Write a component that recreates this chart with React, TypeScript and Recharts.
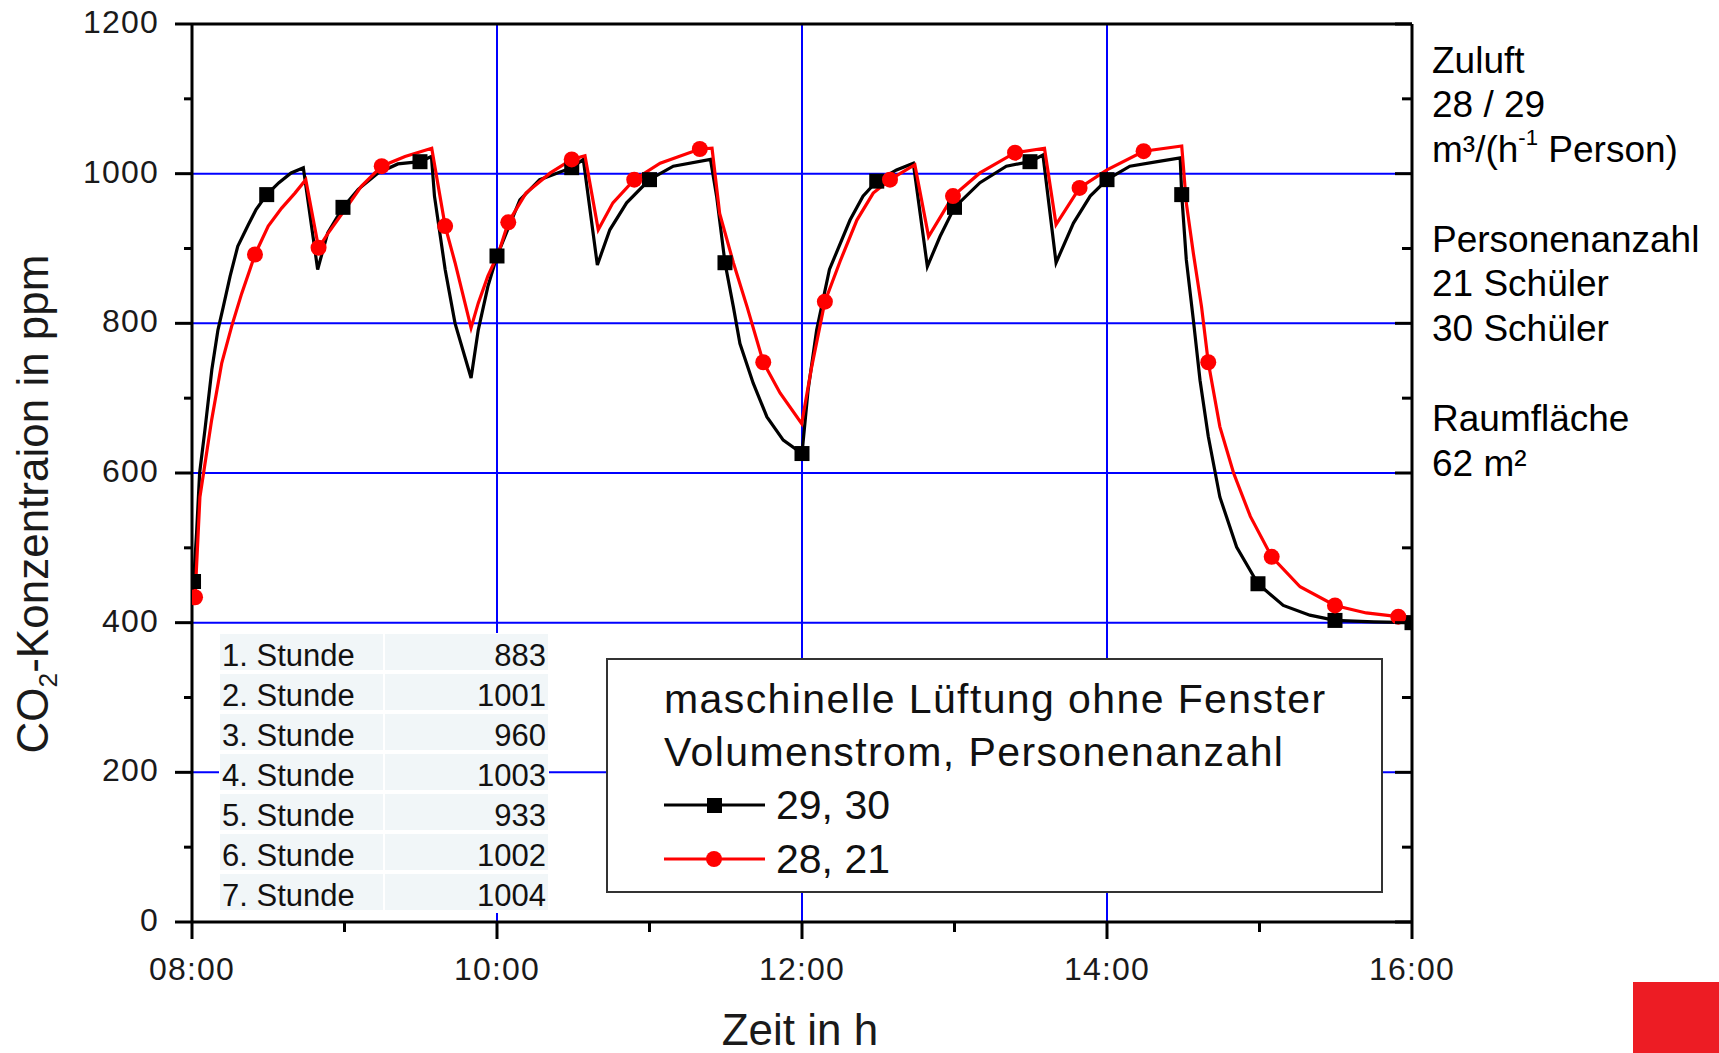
import React from 'react';
import { ComposedChart, Line, Scatter, XAxis, YAxis, CartesianGrid } from 'recharts';

// CO2 concentration over the school day (time in decimal hours, value in ppm)
const SERIES_29_30: [number, number][] = [
  [8.0, 440], [8.015, 470], [8.03, 520], [8.05, 600], [8.085, 658], [8.13, 738], [8.17, 791],
  [8.205, 822], [8.25, 863], [8.3, 903], [8.37, 932], [8.42, 952], [8.49, 972], [8.57, 988],
  [8.65, 1001], [8.73, 1008], [8.824, 872], [8.89, 921], [8.99, 955], [9.09, 979], [9.22, 1001],
  [9.35, 1013], [9.495, 1016], [9.57, 1023], [9.59, 970], [9.66, 872], [9.725, 800], [9.83, 727],
  [9.877, 791], [9.94, 849], [10.0, 890], [10.15, 965], [10.28, 992], [10.49, 1008], [10.566, 1019],
  [10.658, 878], [10.74, 925], [10.85, 961], [11.0, 992], [11.156, 1010], [11.4, 1019], [11.44, 970],
  [11.495, 881], [11.55, 822], [11.593, 773], [11.68, 720], [11.77, 675], [11.877, 644], [12.0, 626],
  [12.04, 711], [12.096, 791], [12.18, 872], [12.315, 938], [12.4, 970], [12.49, 990], [12.62, 1005],
  [12.73, 1014], [12.822, 876], [12.905, 916], [13.0, 955], [13.167, 988], [13.34, 1010], [13.495, 1016],
  [13.58, 1025], [13.666, 881], [13.78, 934], [13.89, 970], [14.0, 992], [14.15, 1010], [14.33, 1016],
  [14.48, 1021], [14.49, 972], [14.52, 885], [14.566, 805], [14.61, 724], [14.664, 649], [14.74, 568],
  [14.85, 501], [14.99, 452], [15.156, 423], [15.33, 410], [15.495, 403], [15.75, 401], [16.0, 400],
];

const SERIES_28_21: [number, number][] = [
  [8.0, 425], [8.02, 434], [8.052, 568], [8.129, 671], [8.195, 747], [8.26, 796], [8.326, 840],
  [8.38, 872], [8.413, 892], [8.5, 930], [8.588, 954], [8.675, 974], [8.746, 992], [8.83, 901],
  [8.894, 921], [9.003, 952], [9.11, 983], [9.244, 1010], [9.397, 1023], [9.572, 1034], [9.66, 930],
  [9.725, 881], [9.83, 794], [9.877, 827], [9.94, 863], [10.01, 894], [10.074, 935], [10.19, 974],
  [10.35, 1001], [10.49, 1019], [10.577, 1024], [10.664, 925], [10.76, 961], [10.9, 992], [11.07, 1014],
  [11.33, 1033], [11.41, 1034], [11.46, 947], [11.55, 881], [11.64, 822], [11.746, 748], [11.856, 707],
  [11.998, 666], [12.06, 738], [12.15, 829], [12.25, 883], [12.36, 938], [12.467, 974], [12.577, 992],
  [12.74, 1012], [12.83, 916], [12.99, 970], [13.167, 1001], [13.397, 1028], [13.59, 1034], [13.666, 932],
  [13.82, 981], [14.0, 1005], [14.24, 1030], [14.49, 1037], [14.52, 961], [14.566, 894], [14.62, 822],
  [14.664, 748], [14.74, 662], [14.83, 600], [14.94, 542], [15.08, 488], [15.266, 448], [15.495, 423],
  [15.7, 413], [15.91, 408], [16.0, 407],
];

// symbol positions (Origin draws a marker every n-th sample)
const MARKS_29_30: [number, number][] = [
  [8.01, 455], [8.49, 972], [8.99, 955], [9.495, 1016], [10.0, 890], [10.49, 1008], [11.0, 992],
  [11.495, 881], [12.0, 626], [12.49, 990], [13.0, 955], [13.495, 1016], [14.0, 992], [14.49, 972],
  [14.99, 452], [15.495, 403], [16.0, 400],
];
const MARKS_28_21: [number, number][] = [
  [8.02, 434], [8.413, 892], [8.83, 901], [9.244, 1010], [9.66, 930], [10.074, 935], [10.49, 1019],
  [10.9, 992], [11.33, 1033], [11.746, 748], [12.15, 829], [12.577, 992], [12.99, 970], [13.397, 1028],
  [13.82, 981], [14.24, 1030], [14.664, 748], [15.08, 488], [15.495, 423], [15.91, 408],
];

const X_TICKS = [8, 9, 10, 11, 12, 13, 14, 15, 16];
const Y_TICKS = [0, 100, 200, 300, 400, 500, 600, 700, 800, 900, 1000, 1100, 1200];
const GRID_X = [10, 12, 14];
const GRID_Y = [200, 400, 600, 800, 1000];

const HOURS = ['1. Stunde', '2. Stunde', '3. Stunde', '4. Stunde', '5. Stunde', '6. Stunde', '7. Stunde'];
const HOUR_MEANS = [883, 1001, 960, 1003, 933, 1002, 1004];

const SIDE_NOTES = [
  'Zuluft', '28 / 29', 'm³/(h-1 Person)', '',
  'Personenanzahl', '21 Schüler', '30 Schüler', '',
  'Raumfläche', '62 m²',
];

const toPoints = (arr: [number, number][]) => arr.map(([t, v]) => ({ t, v }));

const FONT = '"Liberation Sans", Arial, sans-serif';
const TICK_TXT = { fontFamily: FONT, fontSize: 32, letterSpacing: 1.2, fill: '#1a1a1a' };

const fmtHour = (h: number) => `${String(h).padStart(2, '0')}:00`;

const BottomTick = (p: any) => {
  const major = p.payload.value % 2 === 0;
  return (
    <g>
      <line x1={p.x} x2={p.x} y1={p.y} y2={p.y + (major ? 17 : 10)} stroke="#000" strokeWidth={3} />
      {major && (
        <text x={p.x} y={p.y + 47} textAnchor="middle" dominantBaseline="central" {...TICK_TXT}>
          {fmtHour(p.payload.value)}
        </text>
      )}
    </g>
  );
};

const TopTick = (p: any) => {
  const major = p.payload.value % 2 === 0;
  return <line x1={p.x} x2={p.x} y1={p.y} y2={p.y + (major ? 19 : 10)} stroke="#000" strokeWidth={3} />;
};

const LeftTick = (p: any) => {
  const major = p.payload.value % 200 === 0;
  return (
    <g>
      <line x1={p.x - (major ? 17 : 8)} x2={p.x} y1={p.y} y2={p.y} stroke="#000" strokeWidth={3} />
      {major && (
        <text x={p.x - 33} y={p.y - 2} textAnchor="end" dominantBaseline="central" {...TICK_TXT}>
          {p.payload.value}
        </text>
      )}
    </g>
  );
};

const RightTick = (p: any) => {
  const major = p.payload.value % 200 === 0;
  return <line x1={p.x - (major ? 17 : 10)} x2={p.x} y1={p.y} y2={p.y} stroke="#000" strokeWidth={3} />;
};

const SquareMark = (p: any) => <rect x={p.cx - 7.5} y={p.cy - 7.5} width={15} height={15} fill="#000" />;
const CircleMark = (p: any) => <circle cx={p.cx} cy={p.cy} r={8} fill="#ff0000" />;

const abs = (left: number, top: number, extra: React.CSSProperties = {}): React.CSSProperties => ({
  position: 'absolute', left, top, ...extra,
});

const AXIS_LINE = { stroke: '#000', strokeWidth: 3 };

export default function App() {
  return (
    <div style={{ position: 'absolute', left: 0, top: 0, width: 1719, height: 1053, background: '#fff', overflow: 'hidden', fontFamily: FONT, color: '#111' }}>
      {/* plot area: x 192..1412, y 24..922 */}
      <ComposedChart width={1719} height={1053} margin={{ top: 20, right: 303, bottom: 71, left: 92 }}>
        <CartesianGrid stroke="#0000ff" strokeWidth={2} horizontalValues={GRID_Y} verticalValues={GRID_X} />
        <XAxis dataKey="t" type="number" domain={[8, 16]} ticks={X_TICKS} height={60} tickSize={0} tickMargin={0}
          axisLine={AXIS_LINE} tick={BottomTick} interval={0} allowDataOverflow />
        <XAxis xAxisId="top" orientation="top" type="number" domain={[8, 16]} ticks={X_TICKS} height={4} tickSize={0}
          tickMargin={0} axisLine={AXIS_LINE} tick={TopTick} interval={0} allowDataOverflow />
        <YAxis dataKey="v" type="number" domain={[0, 1200]} ticks={Y_TICKS} width={100} tickSize={0} tickMargin={0}
          axisLine={AXIS_LINE} tick={LeftTick} interval={0} allowDataOverflow />
        <YAxis yAxisId="right" orientation="right" type="number" domain={[0, 1200]} ticks={Y_TICKS} width={4} tickSize={0}
          tickMargin={0} axisLine={AXIS_LINE} tick={RightTick} interval={0} allowDataOverflow />
        <Line data={toPoints(SERIES_29_30)} dataKey="v" type="linear" stroke="#000" strokeWidth={3.2} dot={false} isAnimationActive={false} />
        <Line data={toPoints(SERIES_28_21)} dataKey="v" type="linear" stroke="#ff0000" strokeWidth={3.2} dot={false} isAnimationActive={false} />
        <Scatter data={toPoints(MARKS_29_30)} dataKey="v" shape={SquareMark} isAnimationActive={false} />
        <Scatter data={toPoints(MARKS_28_21)} dataKey="v" shape={CircleMark} isAnimationActive={false} />
      </ComposedChart>

      {/* y axis title */}
      <div style={abs(33 - 300, 504 - 30, { width: 600, height: 60, lineHeight: '60px', textAlign: 'center', fontSize: 44, transform: 'rotate(-90deg)', color: '#1a1a1a' })}>
        CO<span style={{ fontSize: '0.6em', position: 'relative', top: '0.35em' }}>2</span>-Konzentraion in ppm
      </div>
      {/* x axis title */}
      <div style={abs(800 - 200, 1030 - 30, { width: 400, height: 60, lineHeight: '60px', textAlign: 'center', fontSize: 44, color: '#1a1a1a' })}>
        Zeit in h
      </div>

      {/* per-hour table */}
      <div style={abs(219, 633, { width: 330, height: 280, background: '#fff' })}>
        {HOURS.map((h, i) => (
          <React.Fragment key={h}>
            <div style={abs(1, 1 + i * 40, { width: 163, height: 36, lineHeight: '44px', background: '#f1f6f8', fontSize: 31, paddingLeft: 2, boxSizing: 'border-box', overflow: 'visible' })}>{h}</div>
            <div style={abs(166, 1 + i * 40, { width: 163, height: 36, lineHeight: '44px', background: '#f1f6f8', fontSize: 31, textAlign: 'right', paddingRight: 2, boxSizing: 'border-box', overflow: 'visible' })}>{HOUR_MEANS[i]}</div>
          </React.Fragment>
        ))}
      </div>

      {/* legend */}
      <div style={abs(606, 658, { width: 777, height: 235, border: '2px solid #333', background: '#fff', boxSizing: 'border-box' })}>
        <div style={abs(56, 39 - 27, { fontSize: 41, letterSpacing: 1.4, lineHeight: '54px', whiteSpace: 'nowrap' })}>maschinelle Lüftung ohne Fenster</div>
        <div style={abs(56, 92 - 27, { fontSize: 41, letterSpacing: 1.4, lineHeight: '54px', whiteSpace: 'nowrap' })}>Volumenstrom, Personenanzahl</div>
        <svg style={abs(56, 120)} width={110} height={110}>
          <line x1={0} x2={101} y1={25} y2={25} stroke="#000" strokeWidth={3} />
          <rect x={43} y={18} width={15} height={15} fill="#000" />
          <line x1={0} x2={101} y1={79} y2={79} stroke="#ff0000" strokeWidth={3} />
          <circle cx={50} cy={79} r={8} fill="#ff0000" />
        </svg>
        <div style={abs(168, 145 - 27, { fontSize: 41, lineHeight: '54px', whiteSpace: 'nowrap' })}>29, 30</div>
        <div style={abs(168, 199 - 27, { fontSize: 41, lineHeight: '54px', whiteSpace: 'nowrap' })}>28, 21</div>
      </div>

      {/* notes right of the plot */}
      <div style={abs(1432, 61 - 22.5, { fontSize: 37, lineHeight: '44.8px', whiteSpace: 'nowrap', color: '#000' })}>
        {SIDE_NOTES.map((s, i) => (
          <div key={i} style={{ height: 44.8 }}>
            {s.includes('h-1') ? (
              <>m³/(h<span style={{ fontSize: '0.6em', position: 'relative', top: '-0.75em' }}>-1</span> Person)</>
            ) : s}
          </div>
        ))}
      </div>

      <div style={abs(1633, 982, { width: 86, height: 71, background: '#ed1c24' })} />
    </div>
  );
}
